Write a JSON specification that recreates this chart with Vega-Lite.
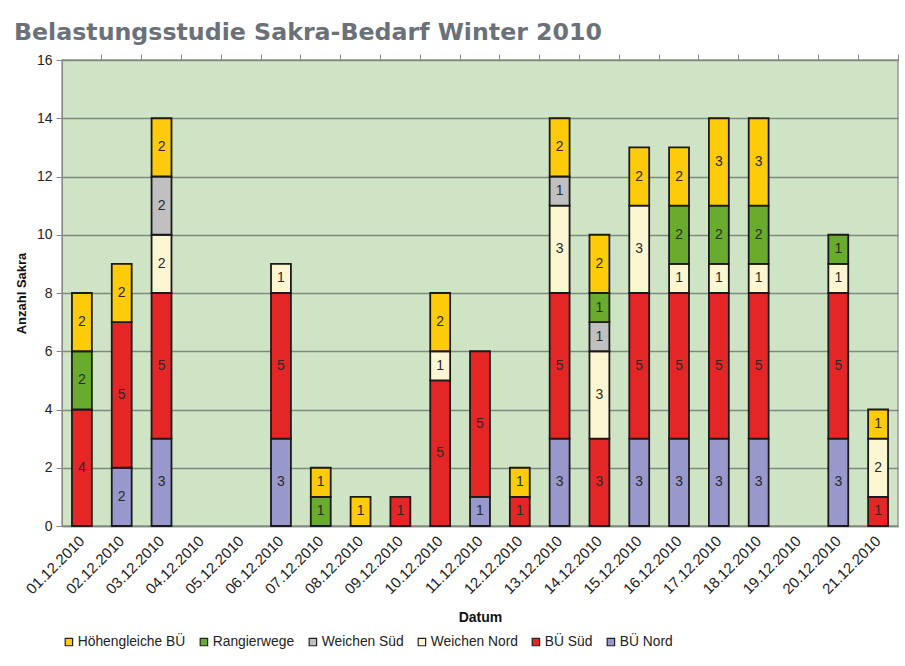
{
  "$schema": "https://vega.github.io/schema/vega-lite/v6.json",
  "width": 836,
  "height": 466,
  "autosize": {"type": "none"},
  "padding": {"left": 62, "top": 60, "right": 7, "bottom": 140},
  "background": "white",
  "config": {
    "font": "Liberation Sans",
    "view": {"fill": "#cfe3c5", "stroke": "#9a9a9a", "strokeWidth": 1.5}
  },
  "title": {
    "text": "Belastungsstudie Sakra-Bedarf Winter 2010",
    "anchor": "start",
    "frame": "group",
    "dx": -48,
    "offset": 8,
    "fontSize": 23.7,
    "fontWeight": "bold",
    "color": "#6b7178",
    "font": "DejaVu Sans"
  },
  "data": {
    "values": [
      {"datum": "01.12.2010", "kategorie": "BÜ Süd", "anzahl": 4},
      {"datum": "01.12.2010", "kategorie": "Rangierwege", "anzahl": 2},
      {"datum": "01.12.2010", "kategorie": "Höhengleiche BÜ", "anzahl": 2},
      {"datum": "02.12.2010", "kategorie": "BÜ Nord", "anzahl": 2},
      {"datum": "02.12.2010", "kategorie": "BÜ Süd", "anzahl": 5},
      {"datum": "02.12.2010", "kategorie": "Höhengleiche BÜ", "anzahl": 2},
      {"datum": "03.12.2010", "kategorie": "BÜ Nord", "anzahl": 3},
      {"datum": "03.12.2010", "kategorie": "BÜ Süd", "anzahl": 5},
      {"datum": "03.12.2010", "kategorie": "Weichen Nord", "anzahl": 2},
      {"datum": "03.12.2010", "kategorie": "Weichen Süd", "anzahl": 2},
      {"datum": "03.12.2010", "kategorie": "Höhengleiche BÜ", "anzahl": 2},
      {"datum": "06.12.2010", "kategorie": "BÜ Nord", "anzahl": 3},
      {"datum": "06.12.2010", "kategorie": "BÜ Süd", "anzahl": 5},
      {"datum": "06.12.2010", "kategorie": "Weichen Nord", "anzahl": 1},
      {"datum": "07.12.2010", "kategorie": "Rangierwege", "anzahl": 1},
      {"datum": "07.12.2010", "kategorie": "Höhengleiche BÜ", "anzahl": 1},
      {"datum": "08.12.2010", "kategorie": "Höhengleiche BÜ", "anzahl": 1},
      {"datum": "09.12.2010", "kategorie": "BÜ Süd", "anzahl": 1},
      {"datum": "10.12.2010", "kategorie": "BÜ Süd", "anzahl": 5},
      {"datum": "10.12.2010", "kategorie": "Weichen Nord", "anzahl": 1},
      {"datum": "10.12.2010", "kategorie": "Höhengleiche BÜ", "anzahl": 2},
      {"datum": "11.12.2010", "kategorie": "BÜ Nord", "anzahl": 1},
      {"datum": "11.12.2010", "kategorie": "BÜ Süd", "anzahl": 5},
      {"datum": "12.12.2010", "kategorie": "BÜ Süd", "anzahl": 1},
      {"datum": "12.12.2010", "kategorie": "Höhengleiche BÜ", "anzahl": 1},
      {"datum": "13.12.2010", "kategorie": "BÜ Nord", "anzahl": 3},
      {"datum": "13.12.2010", "kategorie": "BÜ Süd", "anzahl": 5},
      {"datum": "13.12.2010", "kategorie": "Weichen Nord", "anzahl": 3},
      {"datum": "13.12.2010", "kategorie": "Weichen Süd", "anzahl": 1},
      {"datum": "13.12.2010", "kategorie": "Höhengleiche BÜ", "anzahl": 2},
      {"datum": "14.12.2010", "kategorie": "BÜ Süd", "anzahl": 3},
      {"datum": "14.12.2010", "kategorie": "Weichen Nord", "anzahl": 3},
      {"datum": "14.12.2010", "kategorie": "Weichen Süd", "anzahl": 1},
      {"datum": "14.12.2010", "kategorie": "Rangierwege", "anzahl": 1},
      {"datum": "14.12.2010", "kategorie": "Höhengleiche BÜ", "anzahl": 2},
      {"datum": "15.12.2010", "kategorie": "BÜ Nord", "anzahl": 3},
      {"datum": "15.12.2010", "kategorie": "BÜ Süd", "anzahl": 5},
      {"datum": "15.12.2010", "kategorie": "Weichen Nord", "anzahl": 3},
      {"datum": "15.12.2010", "kategorie": "Höhengleiche BÜ", "anzahl": 2},
      {"datum": "16.12.2010", "kategorie": "BÜ Nord", "anzahl": 3},
      {"datum": "16.12.2010", "kategorie": "BÜ Süd", "anzahl": 5},
      {"datum": "16.12.2010", "kategorie": "Weichen Nord", "anzahl": 1},
      {"datum": "16.12.2010", "kategorie": "Rangierwege", "anzahl": 2},
      {"datum": "16.12.2010", "kategorie": "Höhengleiche BÜ", "anzahl": 2},
      {"datum": "17.12.2010", "kategorie": "BÜ Nord", "anzahl": 3},
      {"datum": "17.12.2010", "kategorie": "BÜ Süd", "anzahl": 5},
      {"datum": "17.12.2010", "kategorie": "Weichen Nord", "anzahl": 1},
      {"datum": "17.12.2010", "kategorie": "Rangierwege", "anzahl": 2},
      {"datum": "17.12.2010", "kategorie": "Höhengleiche BÜ", "anzahl": 3},
      {"datum": "18.12.2010", "kategorie": "BÜ Nord", "anzahl": 3},
      {"datum": "18.12.2010", "kategorie": "BÜ Süd", "anzahl": 5},
      {"datum": "18.12.2010", "kategorie": "Weichen Nord", "anzahl": 1},
      {"datum": "18.12.2010", "kategorie": "Rangierwege", "anzahl": 2},
      {"datum": "18.12.2010", "kategorie": "Höhengleiche BÜ", "anzahl": 3},
      {"datum": "20.12.2010", "kategorie": "BÜ Nord", "anzahl": 3},
      {"datum": "20.12.2010", "kategorie": "BÜ Süd", "anzahl": 5},
      {"datum": "20.12.2010", "kategorie": "Weichen Nord", "anzahl": 1},
      {"datum": "20.12.2010", "kategorie": "Rangierwege", "anzahl": 1},
      {"datum": "21.12.2010", "kategorie": "BÜ Süd", "anzahl": 1},
      {"datum": "21.12.2010", "kategorie": "Weichen Nord", "anzahl": 2},
      {"datum": "21.12.2010", "kategorie": "Höhengleiche BÜ", "anzahl": 1}
    ]
  },
  "transform": [
    {"calculate": "indexof(['BÜ Nord','BÜ Süd','Weichen Nord','Weichen Süd','Rangierwege','Höhengleiche BÜ'], datum.kategorie)", "as": "ord"},
    {"stack": "anzahl", "groupby": ["datum"], "sort": [{"field": "ord", "order": "ascending"}], "as": ["y0", "y1"]},
    {"calculate": "(datum.y0 + datum.y1) / 2", "as": "ymid"}
  ],
  "encoding": {
    "x": {
      "field": "datum",
      "type": "nominal",
      "scale": {
        "domain": ["01.12.2010","02.12.2010","03.12.2010","04.12.2010","05.12.2010","06.12.2010","07.12.2010","08.12.2010","09.12.2010","10.12.2010","11.12.2010","12.12.2010","13.12.2010","14.12.2010","15.12.2010","16.12.2010","17.12.2010","18.12.2010","19.12.2010","20.12.2010","21.12.2010"],
        "paddingInner": 0.5,
        "paddingOuter": 0.25
      }
    }
  },
  "layer": [
    {
      "mark": {"type": "bar", "stroke": "#1a1a1a", "strokeWidth": 1.8},
      "encoding": {
        "x": {
          "field": "datum",
          "type": "nominal",
          "axis": {
            "title": "Datum",
            "titleFontSize": 14,
            "titleFontWeight": "bold",
            "titleColor": "#111",
            "titlePadding": 14,
            "labelAngle": -45,
            "labelAlign": "right",
            "labelBaseline": "middle",
            "labelFontSize": 15,
            "labelColor": "#222",
            "labelPadding": 12,
            "ticks": false,
            "domain": true,
            "domainColor": "#7f8a7f",
            "domainWidth": 1.5
          }
        },
        "y": {
          "field": "y0",
          "type": "quantitative",
          "scale": {"domain": [0, 16], "nice": false},
          "axis": {
            "title": "Anzahl Sakra",
            "titleFontSize": 13,
            "titleFontWeight": "bold",
            "titleColor": "#111",
            "titlePadding": 8,
            "values": [0, 2, 4, 6, 8, 10, 12, 14, 16],
            "labelFontSize": 14,
            "labelColor": "#222",
            "labelPadding": 4,
            "tickSize": 6,
            "tickColor": "#888",
            "domainColor": "#888",
            "grid": true,
            "gridColor": "#7f8a7f",
            "gridWidth": 1.5
          }
        },
        "y2": {"field": "y1"},
        "color": {
          "field": "kategorie",
          "type": "nominal",
          "scale": {
            "domain": ["Höhengleiche BÜ", "Rangierwege", "Weichen Süd", "Weichen Nord", "BÜ Süd", "BÜ Nord"],
            "range": ["#fecb0a", "#69ab2c", "#c0c0c0", "#fcf7d2", "#e42726", "#9898cc"]
          },
          "legend": {
            "title": null,
            "orient": "none",
            "legendX": 0,
            "legendY": 575,
            "direction": "horizontal",
            "columns": 6,
            "columnPadding": 11,
            "symbolType": "square",
            "symbolSize": 55,
            "symbolStrokeColor": "#222",
            "symbolStrokeWidth": 1.2,
            "symbolOpacity": 1,
            "labelFontSize": 13.8,
            "labelColor": "#222",
            "labelOffset": 2
          }
        }
      }
    },
    {
      "mark": {"type": "text", "fontSize": 14, "color": "#2a2a2a", "baseline": "middle"},
      "encoding": {
        "x": {
          "field": "datum",
          "type": "nominal",
          "axis": {
            "title": null,
            "labels": false,
            "domain": false,
            "ticks": true,
            "tickSize": 6,
            "tickColor": "#888",
            "bandPosition": 1.5
          }
        },
        "y": {"field": "ymid", "type": "quantitative"},
        "text": {"field": "anzahl", "type": "quantitative"}
      }
    }
  ],
  "resolve": {"axis": {"x": "independent"}}
}
